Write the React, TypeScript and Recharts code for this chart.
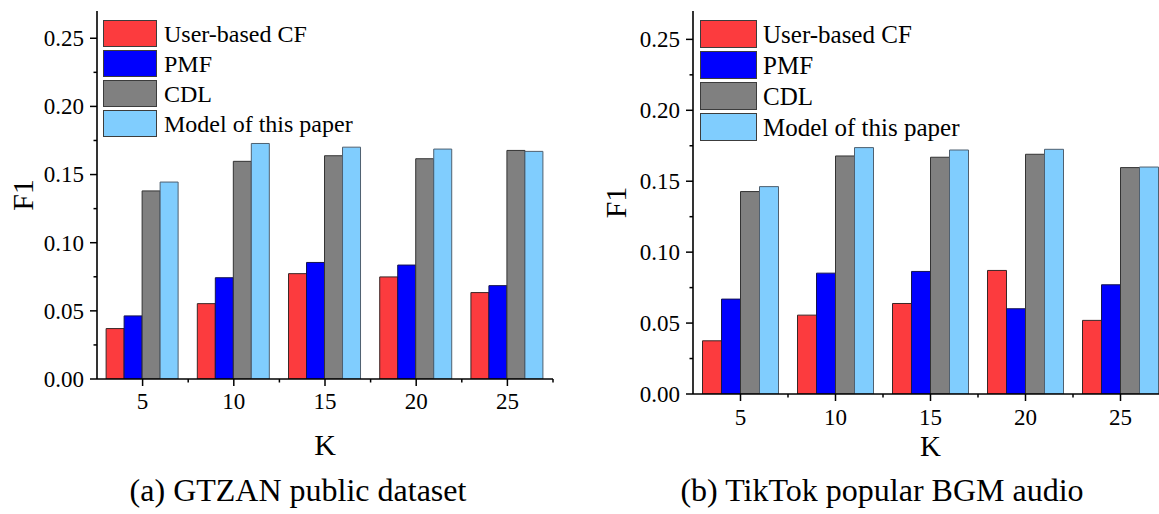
import React from "react"
import { BarChart, Bar, XAxis, YAxis, Legend } from "recharts"

const kValues = ["5", "10", "15", "20", "25"]
const seriesKeys = ["cf", "pmf", "cdl", "ours"]
const seriesNames = ["User-based CF", "PMF", "CDL", "Model of this paper"]
const seriesColors = ["#fc3b3e", "#0000fe", "#808080", "#80cdfe"]
const seriesStrokes = ["#3a2626", "#141450", "#333333", "#4f6070"]

// (a) GTZAN
const gtzanCF = [0.037, 0.0553, 0.0773, 0.0749, 0.0634]
const gtzanPMF = [0.0463, 0.0743, 0.0855, 0.0836, 0.0685]
const gtzanCDL = [0.138, 0.1597, 0.1638, 0.1616, 0.1677]
const gtzanOurs = [0.1445, 0.1728, 0.1701, 0.1687, 0.167]

// (b) TikTok
const tiktokCF = [0.0375, 0.0556, 0.0638, 0.0871, 0.0519]
const tiktokPMF = [0.0669, 0.0852, 0.0864, 0.0601, 0.077]
const tiktokCDL = [0.1427, 0.1678, 0.1669, 0.169, 0.1596]
const tiktokOurs = [0.1462, 0.1737, 0.172, 0.1725, 0.16]

const yTicks = [0, 0.025, 0.05, 0.075, 0.1, 0.125, 0.15, 0.175, 0.2, 0.225, 0.25]
const yDomain = [0, 0.27]

const captions = ["(a) GTZAN public dataset", "(b) TikTok popular BGM audio"]

const FONT = "Liberation Serif, Times New Roman, serif"

const buildRows = (cols: number[][]) =>
  kValues.map((k, i) => ({ k, cf: cols[0][i], pmf: cols[1][i], cdl: cols[2][i], ours: cols[3][i] }))

const gtzanRows = buildRows([gtzanCF, gtzanPMF, gtzanCDL, gtzanOurs])
const tiktokRows = buildRows([tiktokCF, tiktokPMF, tiktokCDL, tiktokOurs])

interface PanelCfg {
  left: number
  width: number
  yAxisW: number
  marginRight: number
  top: number
  xAxisH: number
  bottom: number
  tickFs: number
  labelGap: number
  xLabelDy: number
  titleX: number
  kDy: number
  kFs: number
  legendLeft: number
  legendTop: number
  boxW: number
  boxH: number
  rowGap: number
  textGap: number
  legendFs: number
}

const YTick = (props: any) => {
  const { x, y, payload, fs, gap } = props
  const v = payload.value as number
  const major = Math.round(v * 1000) % 50 === 0
  return (
    <g>
      <line x1={x} x2={x - (major ? 7 : 3.5)} y1={y} y2={y} stroke="#000" strokeWidth={1.5} />
      {major && (
        <text x={x - gap} y={y} dy="0.34em" textAnchor="end" fontSize={fs} style={{ fontFamily: FONT }} fill="#000">
          {v.toFixed(2)}
        </text>
      )}
    </g>
  )
}

const XTick = (props: any) => {
  const { x, y, payload, fs, dyLabel, band } = props
  return (
    <g>
      <line x1={x} x2={x} y1={y} y2={y + 7} stroke="#000" strokeWidth={1.5} />
      <line x1={x + band / 2} x2={x + band / 2} y1={y} y2={y + 3.5} stroke="#000" strokeWidth={1.5} />
      <text x={x} y={y + dyLabel} textAnchor="middle" fontSize={fs} style={{ fontFamily: FONT }} fill="#000">
        {payload.value}
      </text>
    </g>
  )
}

function Panel({ rows, cfg }: { rows: any[]; cfg: PanelCfg }) {
  const plotW = cfg.width - cfg.yAxisW - cfg.marginRight
  const band = plotW / kValues.length

  const renderLegend = () => (
    <div style={{ fontFamily: FONT }}>
      {seriesNames.map((name, i) => (
        <div key={name} style={{ display: "flex", alignItems: "center", height: cfg.boxH, marginBottom: cfg.rowGap }}>
          <div
            style={{
              width: cfg.boxW,
              height: cfg.boxH,
              background: seriesColors[i],
              border: "1.5px solid #3c3c3c",
              boxSizing: "border-box",
            }}
          />
          <span style={{ marginLeft: cfg.textGap, fontSize: cfg.legendFs, lineHeight: 1, color: "#000", whiteSpace: "nowrap" }}>
            {name}
          </span>
        </div>
      ))}
    </div>
  )

  return (
    <div style={{ position: "absolute", left: cfg.left, top: 0 }}>
      <BarChart
        width={cfg.width}
        height={470}
        data={rows}
        margin={{ top: cfg.top, right: cfg.marginRight, left: 0, bottom: cfg.bottom }}
        barGap={0}
        barCategoryGap="10%"
      >
        <XAxis
          dataKey="k"
          height={cfg.xAxisH}
          axisLine={{ stroke: "#000", strokeWidth: 1.6 }}
          tickLine={false}
          tickSize={0}
          tickMargin={0}
          interval={0}
          tick={<XTick fs={cfg.tickFs} dyLabel={cfg.xLabelDy} band={band} />}
          label={(p: any) => {
            const vb = p.viewBox
            return (
              <text x={vb.x + vb.width / 2} y={vb.y + cfg.kDy} textAnchor="middle" fontSize={cfg.kFs} style={{ fontFamily: FONT }} fill="#000">
                K
              </text>
            )
          }}
        />
        <XAxis xAxisId="top" dataKey="k" orientation="top" height={0} tick={false} tickLine={false} axisLine={{ stroke: "#000", strokeWidth: 1.6 }} />
        <YAxis
          width={cfg.yAxisW}
          domain={yDomain}
          ticks={yTicks}
          interval={0}
          allowDataOverflow
          axisLine={{ stroke: "#000", strokeWidth: 1.6 }}
          tickLine={false}
          tickSize={0}
          tickMargin={0}
          tick={<YTick fs={cfg.tickFs} gap={cfg.labelGap} />}
          label={(p: any) => {
            const vb = p.viewBox
            const cy = vb.y + vb.height / 2
            return (
              <text
                x={cfg.titleX}
                y={cy}
                transform={`rotate(-90 ${cfg.titleX} ${cy})`}
                textAnchor="middle"
                fontSize={30}
                style={{ fontFamily: FONT }}
                fill="#000"
              >
                F1
              </text>
            )
          }}
        />
        <YAxis yAxisId="right" orientation="right" width={0} domain={yDomain} tick={false} tickLine={false} axisLine={{ stroke: "#000", strokeWidth: 1.6 }} />
        <Legend
          layout="vertical"
          verticalAlign="middle"
          align="center"
          content={renderLegend}
          wrapperStyle={{ left: cfg.legendLeft, top: cfg.legendTop, width: "auto" }}
        />
        {seriesKeys.map((key, i) => (
          <Bar
            key={key}
            dataKey={key}
            name={seriesNames[i]}
            fill={seriesColors[i]}
            stroke={seriesStrokes[i]}
            strokeWidth={1}
            isAnimationActive={false}
          />
        ))}
      </BarChart>
    </div>
  )
}

const leftCfg: PanelCfg = {
  left: 0,
  width: 600,
  yAxisW: 97,
  marginRight: 47,
  top: 11,
  xAxisH: 60,
  bottom: 31,
  tickFs: 23,
  labelGap: 13,
  xLabelDy: 30,
  titleX: 33,
  kDy: 76,
  kFs: 30,
  legendLeft: 103,
  legendTop: 20,
  boxW: 54,
  boxH: 27,
  rowGap: 3,
  textGap: 7,
  legendFs: 24,
}

const rightCfg: PanelCfg = {
  left: 600,
  width: 600,
  yAxisW: 93,
  marginRight: 32,
  top: 11,
  xAxisH: 45,
  bottom: 31,
  tickFs: 23,
  labelGap: 13,
  xLabelDy: 31,
  titleX: 26,
  kDy: 62,
  kFs: 29,
  legendLeft: 100,
  legendTop: 20,
  boxW: 57,
  boxH: 28,
  rowGap: 3,
  textGap: 6,
  legendFs: 25,
}

export default function App() {
  return (
    <div
      style={{
        position: "fixed",
        left: 0,
        top: 0,
        width: 1159,
        height: 514,
        overflow: "hidden",
        background: "#fff",
        fontFamily: FONT,
      }}
    >
      <Panel rows={gtzanRows} cfg={leftCfg} />
      <Panel rows={tiktokRows} cfg={rightCfg} />
      <div style={{ position: "absolute", left: 0, width: 596, top: 472, textAlign: "center", fontSize: 32, color: "#000" }}>
        {captions[0]}
      </div>
      <div style={{ position: "absolute", left: 582, width: 600, top: 472, textAlign: "center", fontSize: 32, color: "#000" }}>
        {captions[1]}
      </div>
    </div>
  )
}
